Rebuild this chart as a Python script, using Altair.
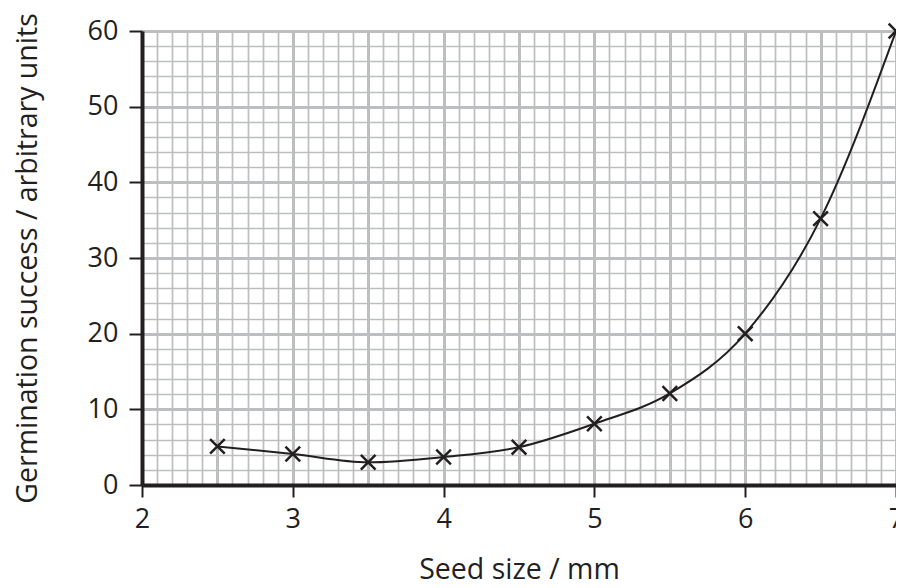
import altair as alt
import pandas as pd

# Data
seed_size = [2.5, 3, 3.5, 4, 4.5, 5, 5.5, 6, 6.5, 7]
germination = [5.1, 4.1, 3.0, 3.7, 5.0, 8.1, 12.1, 20.0, 35.2, 60.0]

# Axis grid positions (graph paper)
x_grid = [round(2 + 0.1 * i, 1) for i in range(51)]
y_grid = list(range(0, 62, 2))

df = pd.DataFrame({"size": seed_size, "germ": germination})

FONT = "Open Sans"
GRID = "#bcbec0"
INK = "#231f20"

x_major = "abs(datum.value*2 - round(datum.value*2)) < 1e-6"
x_int = "abs(datum.value - round(datum.value)) < 1e-6"
y_major = "datum.value % 10 === 0"

x_axis = alt.Axis(
    values=x_grid, title="Seed size / mm", grid=True,
    gridColor=GRID, gridOpacity=1,
    gridWidth={"condition": {"test": x_major, "value": 3}, "value": 1.7},
    domainColor=INK, domainWidth=4,
    tickColor={"condition": {"test": x_int, "value": INK}, "value": "transparent"},
    tickSize=12, tickWidth=2,
    labelExpr=f"{x_int} ? format(datum.value, 'd') : ''",
    labelFont=FONT, labelFontSize=27, labelColor=INK, labelPadding=9,
    labelFlush=False, labelOverlap=False,
    titleFont=FONT, titleFontSize=28.5, titleFontWeight="normal",
    titleColor=INK, titlePadding=23,
)

y_axis = alt.Axis(
    values=y_grid, title="Germination success / arbitrary units", grid=True,
    gridColor=GRID, gridOpacity=1,
    gridWidth={"condition": {"test": y_major, "value": 3}, "value": 1.7},
    domainColor=INK, domainWidth=4,
    tickColor={"condition": {"test": y_major, "value": INK}, "value": "transparent"},
    tickSize=13, tickWidth=2,
    labelExpr=f"{y_major} ? datum.label : ''",
    labelFont=FONT, labelFontSize=27, labelColor=INK, labelPadding=11,
    labelFlush=False, labelOverlap=False,
    titleFont=FONT, titleFontSize=28.5, titleFontWeight="normal",
    titleColor=INK, titlePadding=45,
)

x_enc = alt.X("size:Q", scale=alt.Scale(domain=[2, 7], nice=False, zero=False), axis=x_axis)
y_enc = alt.Y("germ:Q", scale=alt.Scale(domain=[0, 60], nice=False), axis=y_axis)

line = alt.Chart(df).mark_line(
    interpolate="monotone", color=INK, strokeWidth=2
).encode(x=x_enc, y=y_enc)

points = alt.Chart(df).mark_point(
    shape="M-1,-1L1,1M-1,1L1,-1", filled=False, color=INK,
    strokeWidth=2.5, size=215, opacity=1
).encode(x=x_enc, y=y_enc)

chart = (line + points).properties(
    width=754, height=454,
    autosize=alt.AutoSizeParams(type="none"),
    padding={"left": 134, "top": 23, "right": 0, "bottom": 105},
    background="white",
).configure_view(stroke=None)

chart.save("out.html", embed_options={"renderer": "svg", "actions": False})
